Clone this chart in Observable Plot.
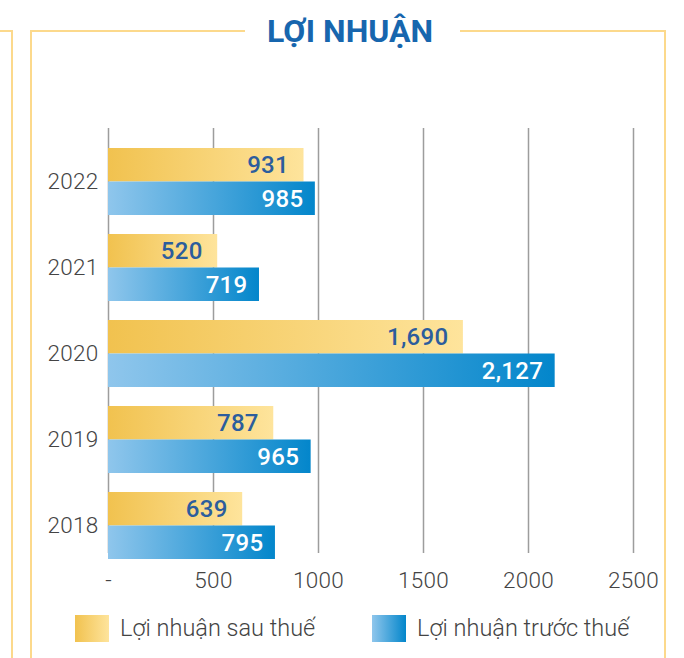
<!DOCTYPE html>
<html>
<head>
<meta charset="utf-8">
<script src="https://cdn.jsdelivr.net/npm/d3@7"></script>
<script src="https://cdn.jsdelivr.net/npm/@observablehq/plot@0.6"></script>
<style>
  html, body { margin: 0; padding: 0; background: #fff; }
  #wrap { position: relative; width: 684px; height: 658px; overflow: hidden; font-family: Roboto, sans-serif; }
  .ln { position: absolute; background: #fcd98c; }
  #title { position: absolute; left: 230px; width: 240px; top: 12px; text-align: center;
           font: 700 32px/38px Roboto, sans-serif; color: #1766ae; white-space: nowrap; }
  #chart { position: absolute; left: 0; top: 100px; }
  .leg { position: absolute; top: 613px; display: flex; align-items: center;
         font: 300 23.5px/30px Roboto, sans-serif; color: #444; white-space: nowrap; }
  .sw { width: 34px; height: 27px; margin-right: 11px; }
</style>
</head>
<body>
<div id="wrap">
  <div class="ln" style="left:0;top:30px;width:12px;height:2px"></div>
  <div class="ln" style="left:11px;top:30px;width:2px;height:640px"></div>
  <div class="ln" style="left:30px;top:30px;width:2px;height:640px"></div>
  <div class="ln" style="left:30px;top:30px;width:215px;height:2px"></div>
  <div class="ln" style="left:460px;top:30px;width:206px;height:2px"></div>
  <div class="ln" style="left:664px;top:30px;width:2px;height:640px"></div>
  <div id="title">LỢI NHUẬN</div>
  <div id="chart"></div>
  <div id="legend"></div>
</div>
<script>
const years = ["2022", "2021", "2020", "2019", "2018"];
const afterTax = [931, 520, 1690, 787, 639];
const preTax = [985, 719, 2127, 965, 795];
const xTicks = [0, 500, 1000, 1500, 2000, 2500];
const xTickLabels = ["-", "500", "1000", "1500", "2000", "2500"];
const seriesNames = ["Lợi nhuận sau thuế", "Lợi nhuận trước thuế"];

const after = years.map((y, i) => ({year: y, value: afterTax[i]}));
const pre = years.map((y, i) => ({year: y, value: preTax[i]}));
const fmt = d3.format(",");

const plot = Plot.plot({
  width: 684,
  height: 500,
  marginLeft: 108,
  marginRight: 51,
  marginTop: 28,
  marginBottom: 47,
  style: {fontFamily: "Roboto, sans-serif", background: "transparent", overflow: "visible"},
  x: {domain: [0, 2500], axis: null},
  y: {domain: years, range: [39.1, 467.7], paddingInner: 0.222, paddingOuter: 0.1, axis: null},
  marks: [
    Plot.ruleX(xTicks, {x: d => d, stroke: "#9d9d9d", strokeWidth: 1.5}),
    Plot.barX(after, {y: "year", x: "value", fill: "url(#gradYellow)", insetBottom: 33.5}),
    Plot.barX(pre, {y: "year", x: "value", fill: "url(#gradBlue)", insetTop: 33.5}),
    Plot.text(after, {y: "year", x: "value", text: d => fmt(d.value), textAnchor: "end",
      dx: -15, dy: -16.5, fill: "#2c5d9d", fontSize: 24, fontWeight: 500}),
    Plot.text(pre, {y: "year", x: "value", text: d => fmt(d.value), textAnchor: "end",
      dx: -12, dy: 17, fill: "#ffffff", fontSize: 24, fontWeight: 500}),
    Plot.axisX(xTicks, {tickSize: 0, tickPadding: 19, fontSize: 22.5, fontWeight: 300, fill: "#444",
      tickFormat: d => xTickLabels[xTicks.indexOf(d)], label: null}),
    Plot.axisY({tickSize: 0, tickPadding: 10, fontSize: 22.5, fontWeight: 300, fill: "#444", label: null})
  ]
});

const svg = d3.select(plot);
svg.selectAll("text").style("letter-spacing", "0.3px");
const defs = svg.insert("defs", ":first-child");
const gy = defs.append("linearGradient").attr("id", "gradYellow").attr("x1", 0).attr("x2", 1).attr("y1", 0).attr("y2", 0);
gy.append("stop").attr("offset", 0).attr("stop-color", "#f1c24f");
gy.append("stop").attr("offset", 1).attr("stop-color", "#fee49c");
const gb = defs.append("linearGradient").attr("id", "gradBlue").attr("x1", 0).attr("x2", 1).attr("y1", 0).attr("y2", 0);
gb.append("stop").attr("offset", 0).attr("stop-color", "#8fc6ec");
gb.append("stop").attr("offset", 1).attr("stop-color", "#0386cb");
document.getElementById("chart").appendChild(plot);

const legendColors = [
  "linear-gradient(to right, #f1c24f, #fee49c)",
  "linear-gradient(to right, #8fc6ec, #0386cb)"
];
const legendLeft = [75, 372];
const legend = document.getElementById("legend");
seriesNames.forEach((name, i) => {
  const item = document.createElement("div");
  item.className = "leg";
  item.style.left = legendLeft[i] + "px";
  const sw = document.createElement("div");
  sw.className = "sw";
  sw.style.background = legendColors[i];
  const tx = document.createElement("span");
  tx.textContent = name;
  item.appendChild(sw);
  item.appendChild(tx);
  legend.appendChild(item);
});
</script>
</body>
</html>
